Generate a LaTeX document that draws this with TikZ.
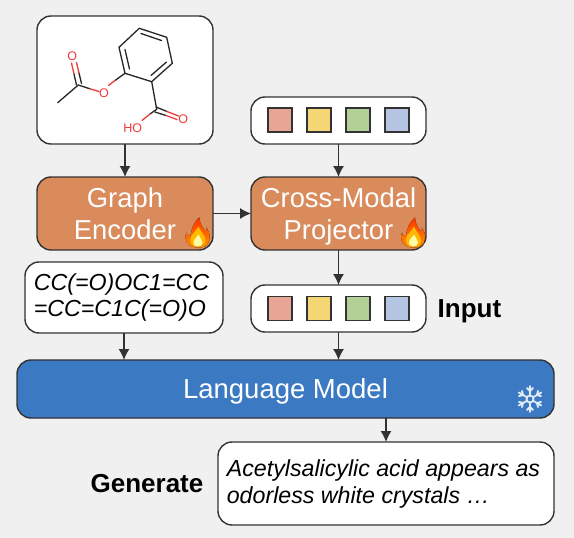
\documentclass[tikz,border=0pt]{standalone}
\usepackage{fontspec}
\usetikzlibrary{arrows.meta}
\setmainfont{Liberation Sans}
\definecolor{bgcol}{HTML}{F0F0F0}
\definecolor{edgecol}{HTML}{333333}
\definecolor{encoder}{HTML}{D98B5C}
\definecolor{lmblue}{HTML}{3B7AC3}
\definecolor{tokred}{HTML}{E6A595}
\definecolor{tokyellow}{HTML}{F4D675}
\definecolor{tokgreen}{HTML}{B0D095}
\definecolor{tokblue}{HTML}{B5C6E3}
\definecolor{atomred}{HTML}{F03A3A}
\tikzset{
  box/.style={draw=edgecol,line width=1.4pt,rounded corners=14pt,inner sep=0pt,outer sep=0pt,align=center},
  whitebox/.style={box,fill=white,text=black},
  orangebox/.style={box,fill=encoder,text=white,font=\fontsize{27.4}{32.5}\selectfont},
  token/.style={draw=edgecol,line width=1.2pt,minimum size=24pt,inner sep=0pt,outer sep=0pt},
  arrow/.style={draw=edgecol,line width=1.3pt,-{Latex[length=11pt,width=11pt]}},
  bond/.style={line width=1.3pt,line cap=round,draw=black!85},
  redbond/.style={line width=1.3pt,line cap=round,draw=atomred},
  atom/.style={text=atomred,inner sep=0pt,font=\fontsize{12.5}{13}\selectfont},
  flame/.pic={
    \fill[top color=red!60!orange,bottom color=orange!85!yellow]
      (0,0) .. controls (-9,0) and (-14,-7) .. (-11,-15)
      .. controls (-10,-11) and (-8,-10) .. (-7,-12)
      .. controls (-6,-19) and (-4,-25) .. (2,-30)
      .. controls (2,-24) and (5,-20) .. (8,-16)
      .. controls (9,-15) and (9,-18) .. (9,-20)
      .. controls (13,-14) and (14,-5) .. (7,-1)
      .. controls (5,0) and (3,0) .. (0,0) -- cycle;
    \fill[orange!55!yellow]
      (0,-1) .. controls (-6,-1) and (-9,-6) .. (-6,-12)
      .. controls (-3,-15) and (-1,-18) .. (1,-21)
      .. controls (3,-16) and (8,-12) .. (8,-7)
      .. controls (8,-3) and (4,-1) .. (0,-1) -- cycle;
    \fill[yellow!35!white]
      (0,-1) .. controls (-4,-1) and (-5,-5) .. (-3,-8)
      .. controls (-1,-10) and (0,-12) .. (1,-13)
      .. controls (2,-10) and (5,-8) .. (5,-5)
      .. controls (5,-2) and (3,-1) .. (0,-1) -- cycle;
  },
  flake/.pic={
    \foreach \a in {30,90,...,330}{
      \draw[line width=1.8pt,draw=white!85!lmblue,line cap=round,rotate=\a]
        (3.5,0) -- (13,0) (8,0) -- (11,3) (8,0) -- (11,-3);
    }
    \draw[line width=1.8pt,draw=white!85!lmblue] (0,0) circle (3.5);
  }
}
\begin{document}
\begin{tikzpicture}[x=1pt,y=-1pt]
  \useasboundingbox[fill=bgcol] (0,0) rectangle (574,538);

  % boxes
  \node[whitebox,minimum width=176pt,minimum height=128pt] (mol) at (125,80) {};
  \node[orangebox,minimum width=176pt,minimum height=73pt] (graph) at (125,213.5) {Graph\\Encoder};
  \node[orangebox,minimum width=175pt,minimum height=73pt] (proj) at (338.5,213.5) {Cross-Modal\\Pro\smash{j}ector};
  \node[whitebox,minimum width=175pt,minimum height=47pt] (top) at (338.5,120.5) {};
  \node[whitebox,minimum width=175pt,minimum height=47pt] (input) at (338.5,308.5) {};
  \node[whitebox,minimum width=198pt,minimum height=71pt,font=\fontsize{23.2}{26}\selectfont\itshape,align=left] (smiles) at (124,297.5) {CC(=O)OC1=CC\hspace*{5pt}\\=CC=C1C(=O)O};
  \node[box,fill=lmblue,text=white,minimum width=537pt,minimum height=58pt,font=\fontsize{27.5}{32}\selectfont] (lm) at (285.5,389) {\raisebox{0pt}[19pt][0pt]{Language Model}};
  \node[whitebox,minimum width=336pt,minimum height=83pt,font=\fontsize{23.2}{27}\selectfont\itshape,align=left] (gen) at (386,483.5) {Acetylsalicylic acid appears as\hspace*{5pt}\\odorless white crystals …};

  % labels
  \node[font=\fontsize{26}{30}\selectfont\bfseries,inner sep=0pt] (inputlabel) at (469.5,308.5) {\raisebox{0pt}[18pt][0pt]{Input}};
  \node[font=\fontsize{26}{30}\selectfont\bfseries,inner sep=0pt] (genlabel) at (147,483.5) {Generate};

  % tokens
  \foreach \x/\c/\n in {280/tokred/a,319/tokyellow/b,358/tokgreen/c,397/tokblue/d}{
    \node[token,fill=\c] (top\n) at (\x,120) {};
    \node[token,fill=\c] (input\n) at (\x,308.5) {};
  }

  % arrows
  \draw[arrow] (mol) -- (graph);
  \draw[arrow] (top) -- (proj);
  \draw[arrow] (graph) -- (proj);
  \draw[arrow] (proj) -- (input);
  \draw[arrow] (smiles.south) -- (smiles.south |- lm.north);
  \draw[arrow] (input.south) -- (input.south |- lm.north);
  \draw[arrow] (gen.north |- lm.south) -- (gen.north);

  % molecule
  \draw[bond] (139.3,28.3) -- (166.7,37.3) -- (172.3,63.3) -- (151.7,81.7) -- (125,73.3) -- (119,47.3) -- cycle;
  \draw[bond] (141,33.5) -- (161.5,40.5) (166.5,62) -- (151,75.5) (129.5,69) -- (125,49.5);
  \draw[bond] (125,73.3) -- (115,80.5);
  \draw[redbond] (115,80.5) -- (108.5,85.5);
  \draw[bond] (78.3,85) -- (90,88.8);
  \draw[redbond] (90,88.8) -- (99,91.5);
  \draw[bond] (78.3,85) -- (57.7,102.7);
  \draw[bond] (76.5,85) -- (74,74) (81.5,83.5) -- (79,73);
  \draw[redbond] (74,74) -- (71.5,63) (79,73) -- (76.5,62.5);
  \draw[bond] (151.7,81.7) -- (156.7,109.3);
  \draw[bond] (156,107) -- (167,111.5) (155,112) -- (166,115.5);
  \draw[redbond] (167,111.5) -- (178.5,116) (166,115.5) -- (177,119.5);
  \draw[bond] (156.7,109.3) -- (150,114);
  \draw[redbond] (150,114) -- (142,120.5);
  \node[atom] (esthero) at (104,92.7) {O};
  \node[atom] (carbo) at (72.3,56.5) {O};
  \node[atom] (acido) at (183.3,118.7) {O};
  \node[atom] (hydroxy) at (132.7,128.3) {HO};

  % icons
  \pic at (197.5,247.5) {flame};
  \pic at (413,247.5) {flame};
  \pic at (530,399) {flake};
\end{tikzpicture}
\end{document}
